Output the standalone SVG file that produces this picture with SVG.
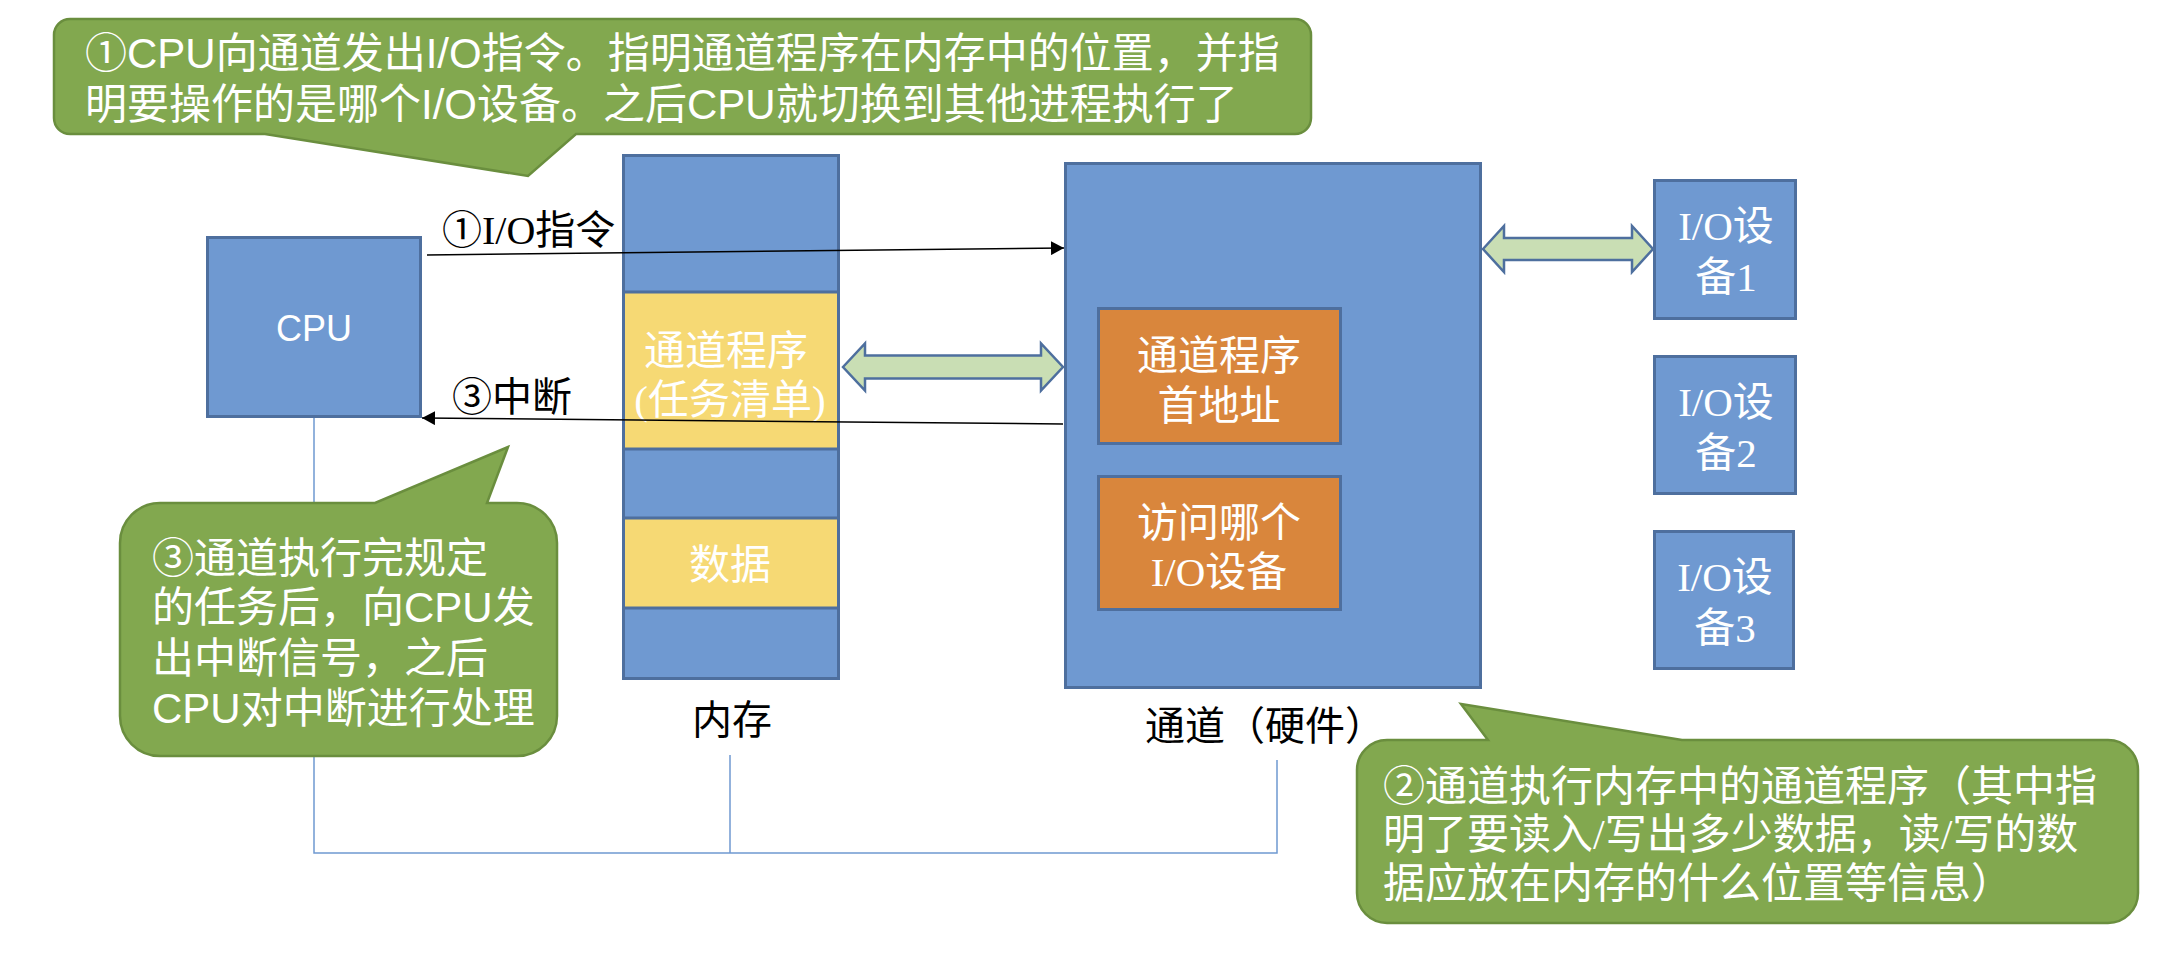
<svg xmlns="http://www.w3.org/2000/svg" width="2159" height="961" viewBox="0 0 2159 961">
<defs>
<style>
.box{fill:#6F99D1;stroke:#4E6F9E;stroke-width:3}
.yel{fill:#F6D974;stroke:#4E6F9E;stroke-width:3}
.org{fill:#D9863C;stroke:#4E6F9E;stroke-width:3}
.dbl{fill:#C9DEB4;stroke:#4E6F9E;stroke-width:2.5}
.call{fill:#82A84F;stroke:#6A8E3E;stroke-width:2.5}
.wire{fill:none;stroke:#000;stroke-width:1.5}
.thin{fill:none;stroke:#6F99D1;stroke-width:1.5}
.ser{font-family:"Liberation Serif","Noto Sans CJK SC",serif;font-size:41px}
.san{font-family:"Liberation Sans","Noto Sans CJK SC",sans-serif;font-size:42px}
.w{fill:#fff}
.k{fill:#000}
.mid{text-anchor:middle}
</style>
<marker id="ah" markerUnits="userSpaceOnUse" markerWidth="14" markerHeight="14" refX="13" refY="7" orient="auto">
<path d="M0,0 L13,7 L0,14 Z" fill="#000"/>
</marker>
</defs>
<rect width="2159" height="961" fill="#fff"/>

<g id="cpu">
<rect class="box" x="207.5" y="237.5" width="213" height="179"/>
<text class="san w mid" x="314" y="341" style="font-size:36px">CPU</text>
</g>

<g id="memory">
<rect class="box" x="623.5" y="155.5" width="215" height="523"/>
<rect class="yel" x="623.5" y="292" width="215" height="157"/>
<rect class="yel" x="623.5" y="518" width="215" height="90"/>
<text class="ser w mid" x="726" y="365">通道程序</text>
<text class="ser w mid" x="730" y="414">(任务清单)</text>
<text class="ser w mid" x="730" y="579">数据</text>
</g>

<g id="mem-label">
<text class="ser k mid" x="732" y="734" style="font-size:40px">内存</text>
</g>

<g id="channel">
<rect class="box" x="1065.5" y="163.5" width="415" height="524"/>
<rect class="org" x="1098.5" y="308.5" width="242" height="135"/>
<text class="ser w mid" x="1219" y="370">通道程序</text>
<text class="ser w mid" x="1219" y="420">首地址</text>
<rect class="org" x="1098.5" y="476.5" width="242" height="133"/>
<text class="ser w mid" x="1219" y="537">访问哪个</text>
<text class="ser w mid" x="1219" y="586">I/O设备</text>
</g>

<g id="channel-label">
<text class="ser k mid" x="1265" y="740" style="font-size:40px">通道（硬件）</text>
</g>

<g id="io1">
<rect class="box" x="1654.5" y="180.5" width="141" height="138"/>
<text class="ser w mid" x="1726" y="240">I/O设</text>
<text class="ser w mid" x="1726" y="291">备1</text>
</g>
<g id="io2">
<rect class="box" x="1654.5" y="356.5" width="141" height="137"/>
<text class="ser w mid" x="1726" y="416">I/O设</text>
<text class="ser w mid" x="1726" y="467">备2</text>
</g>
<g id="io3">
<rect class="box" x="1654.5" y="531.5" width="139" height="137"/>
<text class="ser w mid" x="1725" y="591">I/O设</text>
<text class="ser w mid" x="1725" y="642">备3</text>
</g>

<g id="connectors">
<path class="thin" d="M314,418 V853 H1277 V760"/>
<path class="thin" d="M730,755 V853"/>
<line class="wire" x1="427" y1="255" x2="1064" y2="248" marker-end="url(#ah)"/>
<line class="wire" x1="1063" y1="424" x2="422" y2="418" marker-end="url(#ah)"/>
<path class="dbl" d="M843,367 L865,343.5 V355.5 H1041 V343.5 L1063,367 L1041,390.5 V378.5 H865 V390.5 Z"/>
<path class="dbl" d="M1483,249 L1504,226 V238 H1632 V226 L1653,249 L1632,272 V260 H1504 V272 Z"/>
</g>

<g id="label-io-cmd">
<text class="ser k" x="442" y="244" style="font-size:40px">①I/O指令</text>
</g>
<g id="label-interrupt">
<text class="ser k" x="452" y="411" style="font-size:40px">③中断</text>
</g>

<g id="callout1">
<path class="call" d="M70,19 H1295 A16,16 0 0 1 1311,35 V118 A16,16 0 0 1 1295,134 H576 L528,176 L265,134 H70 A16,16 0 0 1 54,118 V35 A16,16 0 0 1 70,19 Z"/>
<text class="san w" x="85" y="68">①CPU向通道发出I/O指令。指明通道程序在内存中的位置，并指</text>
<text class="san w" x="85" y="119">明要操作的是哪个I/O设备。之后CPU就切换到其他进程执行了</text>
</g>

<g id="callout3">
<path class="call" d="M160,503 H375 L508,447 L487,503 H517 A40,40 0 0 1 557,543 V716 A40,40 0 0 1 517,756 H160 A40,40 0 0 1 120,716 V543 A40,40 0 0 1 160,503 Z"/>
<text class="san w" x="152" y="573">③通道执行完规定</text>
<text class="san w" x="152" y="622">的任务后，向CPU发</text>
<text class="san w" x="152" y="673">出中断信号，之后</text>
<text class="san w" x="152" y="723">CPU对中断进行处理</text>
</g>

<g id="callout2">
<path class="call" d="M1387,740 H1488 L1461,704 L1682,740 H2108 A30,30 0 0 1 2138,770 V893 A30,30 0 0 1 2108,923 H1387 A30,30 0 0 1 1357,893 V770 A30,30 0 0 1 1387,740 Z"/>
<text class="ser w" x="1383" y="801" style="font-size:42px">②通道执行内存中的通道程序（其中指</text>
<text class="ser w" x="1383" y="849" style="font-size:42px">明了要读入/写出多少数据，读/写的数</text>
<text class="ser w" x="1383" y="898" style="font-size:42px">据应放在内存的什么位置等信息）</text>
</g>
</svg>
